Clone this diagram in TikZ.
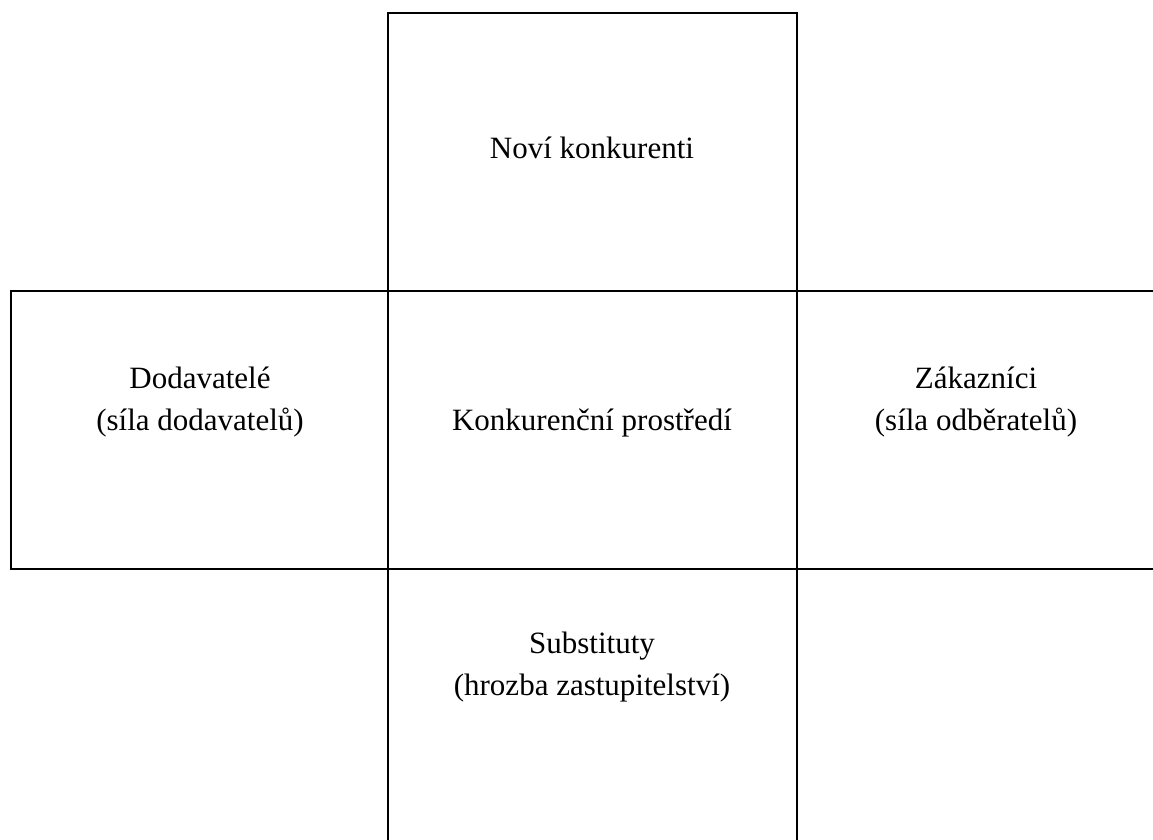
\documentclass[tikz,border=0pt]{standalone}
\usepackage{fontspec}
\setmainfont{Liberation Serif}
\begin{document}
\begin{tikzpicture}[x=1pt,y=-1pt,
  frame/.style={line width=2.4pt,line cap=rect},
  label/.style={anchor=base,inner sep=0pt,font=\fontsize{31}{42}\selectfont}]
\useasboundingbox (0,0) rectangle (1153,839);
% grid coordinates
\coordinate (tl) at (388,13);
\coordinate (tr) at (797,13);
\coordinate (ml1) at (11,291);
\coordinate (ma1) at (388,291);
\coordinate (mb1) at (797,291);
\coordinate (mr1) at (1153,291);
\coordinate (ml2) at (11,569);
\coordinate (mr2) at (1153,569);
\coordinate (ba) at (388,839);
\coordinate (bb) at (797,839);
% frames
\draw[frame] (ma1) -- (tl) -- (tr) -- (mb1);
\draw[frame] (ml1) -- (mr1);
\draw[frame] (ml2) -- (mr2);
\draw[frame] (ml1) -- (ml2);
\draw[frame] (ma1) -- (ba);
\draw[frame] (mb1) -- (bb);
% texts
\node[label] (novi) at (592,158) {Noví konkurenti};
\node[label] (dod1) at (200,388) {Dodavatelé};
\node[label] (dod2) at (200,430) {(síla dodavatelů)};
\node[label] (konk) at (592,430) {Konkurenční prostředí};
\node[label] (zak1) at (976,388) {Zákazníci};
\node[label] (zak2) at (976,430) {(síla odběratelů)};
\node[label] (sub1) at (592,653) {Substituty};
\node[label] (sub2) at (592,695) {(hrozba zastupitelství)};
\end{tikzpicture}
\end{document}
